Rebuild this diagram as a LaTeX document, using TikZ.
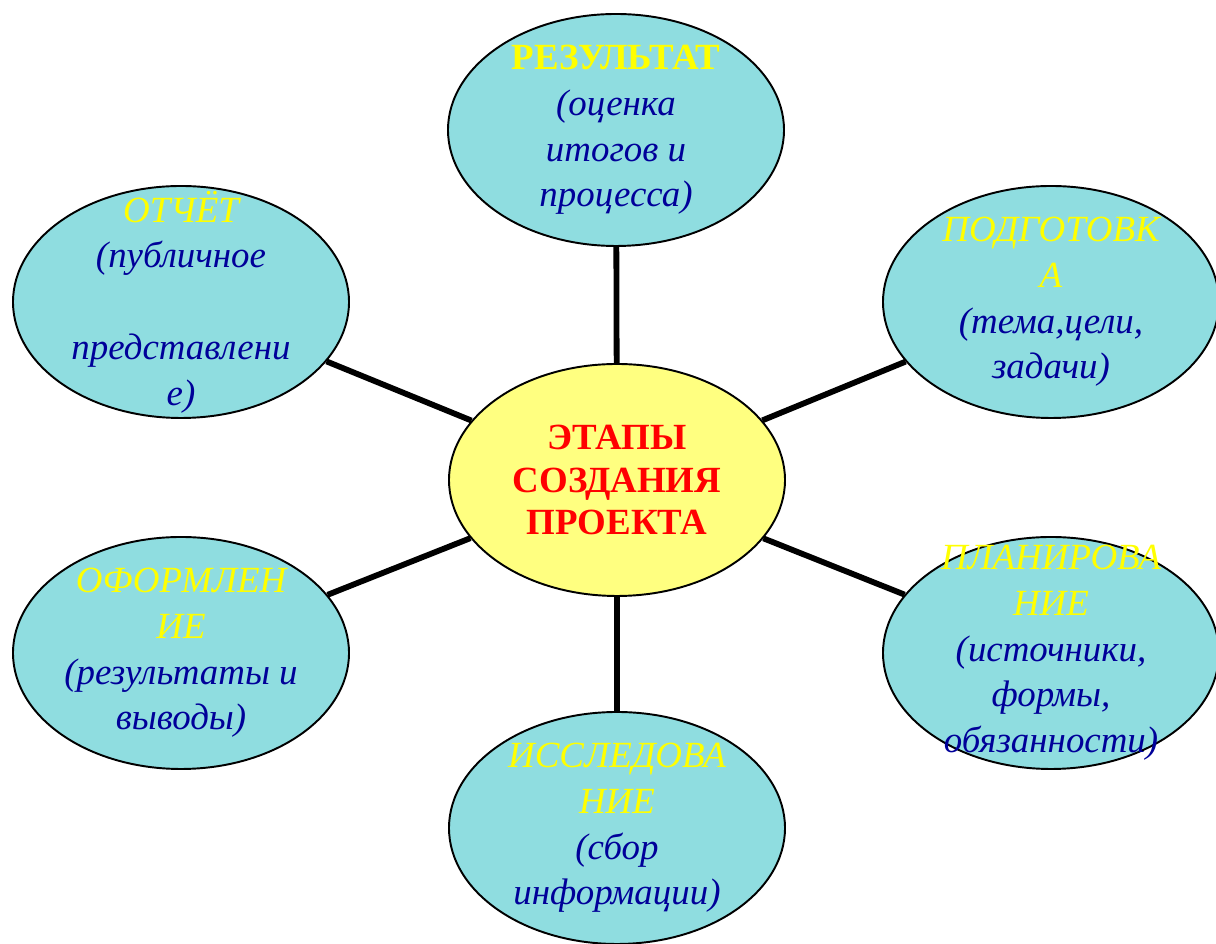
\documentclass[tikz,border=0pt]{standalone}
\usepackage{fontspec}
\setmainfont{Liberation Serif}
\usetikzlibrary{shapes.geometric}
\definecolor{stagefill}{HTML}{8FDDE0}
\definecolor{hubfill}{HTML}{FFFF80}
\definecolor{titleyellow}{HTML}{FFFF00}
\definecolor{notenavy}{HTML}{000099}
\newcommand{\stagehead}[1]{{\color{titleyellow}\itshape #1}}
\newcommand{\stagenote}[1]{{\color{notenavy}\itshape #1}}

\begin{document}
\begin{tikzpicture}[
    stage/.style={ellipse, draw=black, line width=1.1pt, fill=stagefill,
      minimum width=6.72cm, minimum height=4.64cm, inner sep=0pt},
    hub/.style={stage, fill=hubfill},
    words/.style={align=center, inner sep=0pt, font=\fontsize{21}{26}\selectfont},
    spoke/.style={line width=3.3pt}]
    \useasboundingbox (0,0) rectangle (24.32,18.88);
    \node[hub] (hub) at (12.34, 9.28) {};
    \node[stage] (res) at (12.32, 16.28) {};
    \node[stage] (rep) at (3.62, 12.84) {};
    \node[stage] (prep) at (21.02, 12.84) {};
    \node[stage] (form) at (3.62, 5.82) {};
    \node[stage] (plan) at (21.02, 5.82) {};
    \node[stage] (res2) at (12.34, 2.32) {};
    \draw[spoke] (hub) -- (res);
    \draw[spoke] (hub) -- (rep);
    \draw[spoke] (hub) -- (prep);
    \draw[spoke] (hub) -- (form);
    \draw[spoke] (hub) -- (plan);
    \draw[spoke] (hub) -- (res2);
    \node[words, font=\fontsize{21}{24.4}\selectfont\bfseries, text=red] (hub-t) at (hub)
      {ЭТАПЫ\\СОЗДАНИЯ\\ПРОЕКТА};
    \node[words] (res-t) at (res)
      {{\color{titleyellow}\bfseries РЕЗУЛЬТАТ}\\
       \stagenote{(оценка}\\ \stagenote{итогов и}\\ \stagenote{процесса)}};
    \node[words] (rep-t) at (rep)
      {\stagehead{ОТЧЁТ}\\ \stagenote{(публичное}\\ \mbox{}\\
       \stagenote{представлени}\\ \stagenote{е)}};
    \node[words] (prep-t) at (prep)
      {\stagehead{ПОДГОТОВК}\\ \stagehead{А}\\
       \stagenote{(тема,цели,}\\ \stagenote{задачи)}};
    \node[words] (form-t) at (form)
      {\stagehead{ОФОРМЛЕН}\\ \stagehead{ИЕ}\\
       \stagenote{(результаты и}\\ \stagenote{выводы)}};
    \node[words] (plan-t) at (plan)
      {\stagehead{ПЛАНИРОВА}\\ \stagehead{НИЕ}\\
       \stagenote{(источники,}\\ \stagenote{формы,}\\ \stagenote{обязанности)}};
    \node[words] (res2-t) at (res2)
      {\stagehead{ИССЛЕДОВА}\\ \stagehead{НИЕ}\\
       \stagenote{(сбор}\\ \stagenote{информации)}};
\end{tikzpicture}
\end{document}
